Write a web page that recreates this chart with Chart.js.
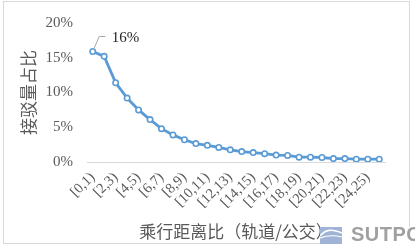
<!DOCTYPE html>
<html>
<head>
<meta charset="utf-8">
<script src="https://cdn.jsdelivr.net/npm/chart.js@4.4.1/dist/chart.umd.min.js"></script>
<style>
  html, body { margin: 0; padding: 0; background: #fff; }
  #wrap { position: relative; width: 415px; height: 249px; }
  #frame { position: absolute; left: 3px; top: 1px; width: 405px; height: 241px; border: 1px solid #d9d9d9; }
  #mark { position: absolute; left: 320px; top: 227px; width: 100px; height: 18px; background: #fff; }
  #mark span { position: absolute; left: 31px; top: -4px; font: bold 20px "Liberation Sans", sans-serif; color: #a0a0a0; letter-spacing: 0.5px; }
</style>
</head>
<body>
<div id="wrap">
  <div id="frame"></div>
  <canvas id="chart" width="415" height="249"></canvas>
  <div id="mark">
    <svg width="22" height="17" viewBox="0 0 22 17">
      <rect x="0" y="0" width="22" height="17" fill="#9fb3d6"/>
      <path d="M0 9 C6 2, 12 2, 22 6" stroke="#fff" stroke-width="1.6" fill="none"/>
      <path d="M0 11 C8 8, 14 8, 22 10" stroke="#fff" stroke-width="1.2" fill="none"/>
    </svg>
    <span>SUTPC</span>
  </div>
</div>
<script>
// categories: ratio of trip distance (rail / bus)
const categories = ["[0,1)", "[1,2)", "[2,3)", "[3,4)", "[4,5)", "[5,6)", "[6,7)", "[7,8)", "[8,9)",
    "[9,10)", "[10,11)", "[11,12)", "[12,13)", "[13,14)", "[14,15)", "[15,16)", "[16,17)", "[17,18)",
    "[18,19)", "[19,20)", "[20,21)", "[21,22)", "[22,23)", "[23,24)", "[24,25)", "[25,26)"];

// share of transfer volume, percent
const shareValues = [15.9, 15.2, 11.4, 9.2, 7.5, 6.1, 4.8, 3.9, 3.2, 2.65, 2.4, 2.1, 1.75,
    1.5, 1.35, 1.2, 1.0, 0.95, 0.7, 0.7, 0.65, 0.5, 0.5, 0.4, 0.4, 0.4];

const yTicks = [0, 5, 10, 15, 20];
const peakLabel = "16%";

const serif = "'Liberation Serif', 'Times New Roman', serif";
const cjk = "'Noto Sans CJK SC', sans-serif";

// draws the "16%" callout with its little leader line
const peakCallout = {
    id: "peakCallout",
    afterDatasetsDraw(chart) {
        const pt = chart.getDatasetMeta(0).data[0];
        if (!pt) return;
        const ctx = chart.ctx;
        ctx.save();
        ctx.strokeStyle = "#a6a6a6";
        ctx.lineWidth = 1;
        ctx.beginPath();
        ctx.moveTo(pt.x + 1.5, pt.y - 3.5);
        ctx.lineTo(pt.x + 6.5, pt.y - 15);
        ctx.lineTo(pt.x + 12.5, pt.y - 15);
        ctx.stroke();
        ctx.fillStyle = "#262626";
        ctx.font = "15px " + serif;
        ctx.textAlign = "left";
        ctx.textBaseline = "middle";
        ctx.fillText(peakLabel, pt.x + 19, pt.y - 13);
        ctx.restore();
    }
};

new Chart(document.getElementById("chart"), {
    type: "line",
    data: {
        labels: categories,
        datasets: [{
            data: shareValues,
            borderColor: "#5b9bd5",
            borderWidth: 2.8,
            backgroundColor: "#ffffff",
            pointBackgroundColor: "#ffffff",
            pointBorderColor: "#5b9bd5",
            pointBorderWidth: 1.6,
            pointRadius: 2.7,
            tension: 0
        }]
    },
    options: {
        responsive: false,
        animation: false,
        events: [],
        layout: { padding: { left: 4, right: 30, top: 21, bottom: 7 } },
        plugins: { legend: { display: false }, tooltip: { enabled: false } },
        scales: {
            x: {
                offset: true,
                grid: { display: false, drawTicks: false },
                border: { display: true, color: "#d9d9d9", width: 1 },
                ticks: {
                    autoSkip: false,
                    minRotation: 45,
                    maxRotation: 45,
                    padding: 7,
                    color: "#595959",
                    font: { family: serif, size: 14.5 },
                    callback: function(v, i) { return i % 2 === 0 ? categories[i] : ""; }
                },
                title: {
                    display: true,
                    text: "乘行距离比（轨道/公交）",
                    color: "#595959",
                    font: { family: cjk, size: 17 },
                    padding: { top: 0, bottom: 0 }
                },
                afterFit: function(s) { s.height = 80; }
            },
            y: {
                min: 0,
                max: 20,
                grid: { display: false, drawTicks: false },
                border: { display: false },
                afterBuildTicks: function(s) { s.ticks = yTicks.map(v => ({ value: v })); },
                ticks: {
                    padding: 14,
                    color: "#595959",
                    font: { family: serif, size: 15 },
                    callback: function(v) { return v + "%"; }
                },
                title: {
                    display: true,
                    text: "接驳量占比",
                    color: "#595959",
                    font: { family: cjk, size: 17 },
                    padding: { top: 14, bottom: 0 }
                },
                afterFit: function(s) { s.width = 83; }
            }
        }
    },
    plugins: [peakCallout]
});
</script>
</body>
</html>
